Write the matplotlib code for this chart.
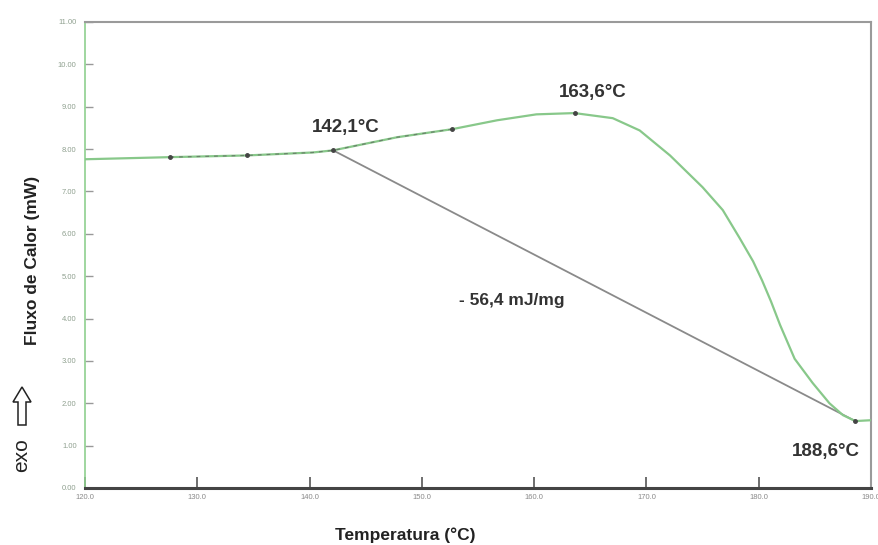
import matplotlib
matplotlib.use("Agg")
import matplotlib.pyplot as plt
from matplotlib.patches import FancyArrow

# Data
temp = [120, 127.6, 134.4, 140.3, 142.1, 147.8, 152.7, 156.7, 160.2, 163.6,
        167.0, 169.4, 172.1, 175.0, 176.8, 178.3, 179.5, 180.3, 181.1, 181.9,
        183.2, 184.8, 186.3, 187.5, 188.6, 190]
flux = [7.76, 7.81, 7.85, 7.92, 7.97, 8.28, 8.47, 8.68, 8.82, 8.85,
        8.73, 8.44, 7.85, 7.10, 6.56, 5.90, 5.35, 4.90, 4.40, 3.85,
        3.05, 2.48, 2.00, 1.72, 1.58, 1.60]
base_t = [142.1, 188.6]
base_q = [7.97, 1.58]
mark_t = [127.6, 134.4, 142.1, 152.7, 163.6, 188.6]
mark_q = [7.81, 7.85, 7.97, 8.47, 8.85, 1.58]
yticks = [0, 1, 2, 3, 4, 5, 6, 7, 8, 9, 10, 11]
xticks = [120, 130, 140, 150, 160, 170, 180, 190]
labels = ["142,1°C", "163,6°C", "188,6°C"]
label_pos = [(143.2, 8.51), (165.2, 9.34), (186.0, 0.85)]
area_text = "- 56,4 mJ/mg"

plt.rcParams['font.family'] = ['Liberation Sans', 'DejaVu Sans']

fig = plt.figure(figsize=(8.79, 5.45), dpi=100)
ax = fig.add_axes([85/879, 57/545, 786/879, 466/545])
ax.set_xlim(120, 190)
ax.set_ylim(0, 11)

ax.plot(temp, flux, color='#88c88a', lw=1.6, zorder=3)
sub = [i for i, t in enumerate(temp) if 127 <= t <= 153]
ax.plot([temp[i] for i in sub], [flux[i] for i in sub], color='#555555',
        lw=0.9, ls=(0, (3, 4)), alpha=0.6, zorder=4)
ax.plot(base_t, base_q, color='#8a8a8a', lw=1.3, zorder=2)
ax.plot(mark_t, mark_q, ls='none', marker='o', ms=2.5, color='#444444', zorder=5)

for s in ['top', 'right']:
    ax.spines[s].set_color('#9a9a9a')
    ax.spines[s].set_linewidth(1.5)
ax.spines['left'].set_color('#8fd08f')
ax.spines['left'].set_linewidth(1.2)
ax.spines['bottom'].set_color('#444444')
ax.spines['bottom'].set_linewidth(2.2)

ax.set_yticks(yticks)
ax.set_yticklabels([f"{v:.2f}" for v in yticks])
ax.set_xticks(xticks)
ax.set_xticklabels([f"{v:.1f}" for v in xticks])
ax.tick_params(axis='y', direction='in', length=6, width=1, color='#999999',
               labelsize=5.5, labelcolor='#8fa08f', pad=6)
ax.tick_params(axis='x', direction='in', length=8, width=1.2, color='#555555',
               labelsize=5.5, labelcolor='#8a8a8a', pad=4)

for txt, (x, y) in zip(labels, label_pos):
    ax.text(x, y, txt, fontsize=13.5, fontweight='bold', color='#333333',
            ha='center', va='center')
ax.text(158.0, 4.43, area_text, fontsize=12.5, fontweight='bold', color='#333333',
        ha='center', va='center')

fig.text(405/879, 1 - 535/545, "Temperatura (°C)", fontsize=12.5, fontweight='bold',
         color='#222222', ha='center', va='center')
fig.text(33/879, 1 - 260/545, "Fluxo de Calor (mW)", fontsize=12.5, fontweight='bold',
         color='#222222', rotation=90, ha='center', va='center')
fig.text(22/879, 1 - 455/545, "exo", fontsize=15, color='#222222', rotation=90,
         ha='center', va='center')
arrow = FancyArrow(22/879, 1 - 425/545, 0, 38/545, width=8/879,
                   head_width=18/879, head_length=15/545, transform=fig.transFigure,
                   facecolor='white', edgecolor='#222222', lw=1.1,
                   length_includes_head=True)
fig.patches.append(arrow)

fig.savefig("out.png", dpi=100)
